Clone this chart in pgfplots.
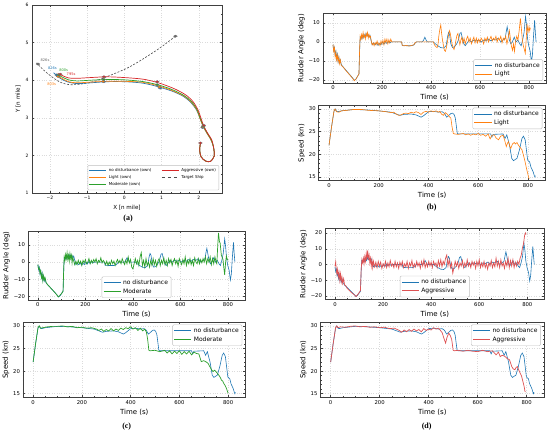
\documentclass[border=0pt]{standalone}
\usepackage{fontspec}
\setmainfont{DejaVu Sans}
\newfontfamily\capfont{Liberation Serif}
\usepackage{pgfplots}
\usepackage{pgfplotstable}
\pgfplotsset{compat=1.18}
\definecolor{tblue}{HTML}{1F77B4}
\definecolor{torange}{HTML}{FF7F0E}
\definecolor{tgreen}{HTML}{2CA02C}
\definecolor{tred}{HTML}{D62728}
\definecolor{tredl}{HTML}{DE5253}

\pgfplotstableread{
t v
0 -1.5
3 -4.5
6 -3
9 -7
12 -5
15 -9
18 -6.5
21 -10.5
24 -8
27 -11
30 -9.5
34 -12
40 -13
50 -14.5
60 -16
70 -17.5
80 -19
87 -20.3
94 -19.6
100 -18.2
106 -17
109 -4
111 2.5
115 1.5
119 3.5
123 2
127 4
131 2.5
135 4.5
139 3
143 4
147 2.5
151 3.5
156 0.5
160 -1.5
166 -0.5
172 -1.5
178 -0.5
184 -1.8
190 -0.8
196 -1.5
202 0
208 -1.2
214 0.3
220 -0.8
226 0.2
232 -0.5
238 0
280 0
283 -1.9
300 -2
320 -2
330 -1.6
336 -0.5
340 0
365 0
370 1
375 2.5
380 1
385 0
410 0
418 -1
428 -2
440 -3
452 -3.2
462 -2
468 3
472 5
476 4
481 -1
488 -3
496 -2.5
505 -1
512 1
518 4.5
523 5
528 2
534 -1
540 -2
548 -0.5
556 1
565 0
575 1
585 0.5
595 1
605 0
615 1
625 0.5
635 1.5
645 0.5
655 1.5
665 1
675 2
685 0
695 1
703 2
708 6
711 8
715 5
720 1
726 -1
732 0
740 2.5
747 0
755 1
762 -1
768 -2
774 1
780 5
786 13.5
790 9
794 2
799 -2
805 -5
810 -10.5
814 -7
818 2
823 11.5
826 5
829 0
}\ndrud

\pgfplotstableread{
t v
0 -1.5
3 -5
6 -3
9 -8
12 -5.5
15 -9.5
18 -7
21 -10.5
24 -8
27 -11.5
30 -9.5
34 -12.5
40 -13
50 -14.7
60 -16.2
70 -17.7
80 -19.2
87 -20.5
94 -19.6
100 -18.2
106 -17
109 -3
111 3
114 1.5
117 4
120 2
123 5
126 2.5
129 3.5
132 1.5
135 4.5
138 3
141 5
144 2
147 4
150 2.5
153 3
157 0
160 -1.5
164 -0.5
168 -2
172 -0.3
176 -1.5
180 0.5
184 -1.5
188 -0.5
192 -2
196 0.5
200 -1
204 0.8
208 -1.5
212 1.5
216 -0.5
220 1.5
224 -1
228 1.2
232 -0.5
236 1.5
240 0
280 0
283 -1.8
290 -2.1
300 -1.8
310 -2.2
320 -1.9
330 -1.5
336 -0.3
340 0
410 0
414 -1.5
420 -2.5
425 -3
429 -1
432 3
436 6.5
440 9
443 5
447 1
451 -2
455 -4.5
459 -5
463 -3
467 0
471 3
475 6
478 5
482 2
486 -1
490 -3
494 -4
498 -2
502 1
506 3.5
510 4.5
514 1
518 -1.5
522 1
526 2.5
530 -0.5
535 2
540 -1
545 1.5
550 3
555 0
560 2
565 -1
570 1
575 2.5
580 -0.5
585 2
590 -0.5
595 1.5
600 0
605 2
610 1
615 -1
620 2
625 0.5
630 2.5
635 0
640 1.5
645 3
650 0.5
655 2
660 1
665 3
670 0
675 2
680 1
685 3
690 -0.5
695 2
700 1
705 3
710 -1
715 2
720 6
724 2
728 -2
733 -4.5
737 -1
741 -5
745 0
750 3
755 1
760 6
765 12.5
769 7
773 1
777 -2
781 -4
785 -6
789 2
792 9.5
796 5
800 8
803 6
806 7.5
}\lightrud

\pgfplotstableread{
t v
0 -1.5
3 -4
6 -3.5
9 -6.5
12 -5
15 -9
18 -7
21 -11
24 -8
27 -10.5
30 -9
35 -12
40 -13
50 -14.5
60 -16
70 -17.5
80 -19.2
86 -20.3
92 -19.5
100 -18.3
106 -17
109 -3
111 3
114 1
117 4.5
120 2
123 5.5
126 1.5
129 4
132 0.5
135 5
138 2
141 4
144 -0.5
147 3
150 1
155 -1.5
160 0.5
165 -1.5
170 1
175 -1
180 0.5
185 -2
190 1
195 -0.5
200 1.5
205 -1
210 0
215 2
220 -1
225 1
230 -0.5
235 1.5
240 0
245 2
250 -1
255 1
260 0
265 2.5
270 -0.5
275 1
280 0
285 -1.5
290 0.5
295 -2
300 0
305 -1.5
310 1
315 -1
320 0.5
325 -2
330 0
335 1.5
340 -0.5
345 1
350 -1
355 2
360 0
365 -1.5
370 1
375 -1
380 3
385 -0.5
390 1.5
395 -3
400 -4
405 -1
410 2
415 -1
420 1
425 -2
430 3
435 5.5
440 -2
445 1
450 -3
455 2
460 -2
465 0
470 -3
475 1
480 -2
485 2
490 -1.5
495 1
500 -2.5
505 0.5
510 2
515 -2
520 1
525 -1
530 2.5
535 -1.5
540 1
545 -2
550 2
555 -0.5
560 1.5
565 -2
570 0.5
575 2
580 -1
585 1
590 -2.5
595 2
600 0
605 -1.5
610 1.5
615 -1
620 3
625 -2
630 1
635 -1
640 2
645 -1.5
650 1
655 -2
660 2.5
665 0
670 -1
675 2
680 -1
685 1.5
690 -0.5
695 2
700 0
705 3
710 -1
715 2
720 0
725 3
730 -1.5
735 2
740 -1
745 3
750 0
753 -1
757 10
760 17
764 12
767 11
772 4
779 1.5
783 -4
786 -7.5
790 0
793 3.5
796 2
800 1
}\modrud

\pgfplotstableread{
t v
0 -1
3 1.7
5 -3
8 -6
11 -3
14 -8
17 -5
20 -10
23 -6
26 -11
29 -8
32 -12
36 -9
40 -13
45 -13.5
50 -15
60 -16.5
70 -18
80 -19.2
88 -20.3
95 -19
100 -18
106 -16.5
109 -3
112 3
115 1
118 4
121 0.5
124 5
127 2
130 7
133 3
136 9
139 4
142 6
145 1
148 4
151 -1
154 3
157 -2
160 2
165 -1.5
170 1.5
175 -2
180 2
185 -1
190 1.5
195 -2.5
200 0.5
205 -1.5
210 2
215 -2
220 1
225 -1.5
230 2.5
235 -1
240 0.5
245 -2
250 2
255 -1.5
260 1
265 -2.5
270 1.5
275 -1
280 2
285 -2
290 0.5
295 -1.5
300 2
305 -2.5
310 1
315 -1
320 2.5
325 -2
330 0.5
335 -1.5
340 2
345 -1
350 1
355 -2.5
360 2
365 -1
370 3
375 -2
380 1
385 -1.5
390 2
395 -1
400 1.5
405 -2
410 2
415 -0.5
420 1
425 -2
430 2.5
435 -1
440 3
445 -1.5
450 2
455 0
460 4
465 6
470 -1
475 3
480 -2
485 1
490 -5.5
495 -2
500 2
505 -1
510 1.5
515 -2.5
520 1
525 -1
530 2.5
535 -2
540 1
545 -1.5
550 3
555 -1
560 1
565 -2
570 2
575 -0.5
580 1.5
585 -2.5
590 2
595 -1
600 3
605 -2
610 1
615 -1.5
620 2
625 -2
630 0.5
635 -3
640 1
645 -1
650 2.5
655 -2
660 1
665 -1.5
670 4
675 -1
680 2
685 -2
690 3
695 -1
700 1
705 -2.5
710 2
715 -1
720 4
725 -2
730 2.5
735 -1
740 3
745 -2
750 1.5
755 -1
760 2
765 0
770 4
775 6
779 10
784 13
789 18.6
793 20
795 19
}\aggrud

\pgfplotstableread{
t v
0 22
10 26
20 29.5
25 30
30 29.5
35 29.4
50 29.6
100 29.9
150 29.8
200 29.6
250 29.3
270 28.9
285 28.6
300 28.8
330 28.9
350 28.7
370 28.2
380 28.5
400 29.4
420 29.5
440 29.3
455 29.4
465 29.0
473 28.2
480 28.5
490 29.0
497 29.1
503 28.8
508 28.0
516 24.6
520 24.5
600 24.5
650 24.5
655 23.8
660 24.4
700 24.5
708 23.5
715 24.3
726 22.0
735 19.1
742 18.6
750 18.9
756 19.1
766 21.0
776 23.5
782 24.0
789 23.2
795 20.5
799 18.7
803 18.5
807 18.3
812 17.2
818 16.5
822 16.0
825 15.4
828 15.0
830 15.3
}\ndspd

\pgfplotstableread{
t v
0 22
10 26
20 29.6
24 30
30 29.4
40 29.3
50 29.6
70 29.7
100 29.9
130 29.9
160 29.7
200 29.6
230 29.4
250 29.2
260 29.3
270 28.9
280 28.6
290 28.7
300 29.0
310 29.1
320 29.0
330 29.3
340 29.1
350 29.4
360 29.2
370 28.8
380 29.3
390 29.5
400 29.3
410 29.6
420 29.4
430 29.6
440 29.3
446 29.5
452 28.9
460 28.6
468 29.2
475 28.9
482 28.4
490 28.0
495 26.0
500 24.6
505 24.5
520 24.4
540 24.6
550 24.3
560 24.5
570 24.2
580 24.5
590 24.3
600 24.6
610 24.2
620 24.4
630 24.0
640 24.5
648 23.4
655 24.2
665 24.3
672 23.6
682 23.2
690 24.0
700 24.2
707 23.0
713 21.7
718 22.5
722 22.8
727 21.8
731 21.3
738 22.3
745 22.6
750 22.3
756 22.6
762 22.0
766 21.7
772 21.3
776 21.0
782 19.8
788 18.5
793 17.2
798 16.0
803 14.9
805 14.6
}\lightspd

\pgfplotstableread{
t v
0 22
10 26
20 29.6
25 30
30 29.5
40 29.6
60 29.8
80 29.9
100 29.9
120 30.0
140 29.8
160 29.9
180 29.6
200 29.7
220 29.5
240 29.6
260 29.3
270 29.0
280 29.3
290 28.8
300 29.2
310 28.9
320 29.4
330 28.9
340 29.3
350 29.0
360 29.5
370 29.2
380 29.6
390 29.4
400 29.8
410 29.3
420 29.6
430 29.0
440 29.5
450 28.9
458 29.3
465 28.6
470 27.0
475 24.6
480 24.5
500 24.6
520 24.3
540 24.6
550 24.0
560 24.5
570 23.8
580 24.4
590 23.9
600 24.5
610 23.7
620 24.3
630 23.8
640 24.4
650 23.6
660 24.2
670 23.9
680 23.8
690 22.1
700 22.3
711 22.0
718 21.7
725 21.0
732 20.3
738 19.9
745 20.2
750 19.9
756 19.5
762 19.1
768 18.6
773 18.0
778 17.8
782 17.3
788 16.8
793 16.2
797 15.6
800 15.1
}\modspd

\pgfplotstableread{
t v
0 22
10 26
20 29.6
25 30
30 29.6
40 29.8
60 29.7
80 29.9
100 30.0
120 29.8
140 29.9
160 29.7
180 29.8
200 29.6
220 29.7
240 29.4
260 29.5
280 29.0
290 28.6
300 29.1
310 28.7
320 29.2
330 28.8
340 29.3
350 28.9
360 29.2
370 28.7
380 29.4
390 29.0
400 29.3
410 29.1
420 29.6
430 29.3
440 29.5
448 29.0
455 28.5
462 27.3
469 26.2
475 27.5
482 28.4
488 27.9
494 27.0
500 24.6
505 24.5
520 24.6
540 24.4
560 24.6
580 24.4
600 24.3
620 24.6
640 24.3
660 24.5
675 23.6
685 24.2
692 23.2
700 23.5
710 23.3
720 22.8
730 22.5
739 21.0
745 20.5
752 20.3
757 20.8
762 21.0
768 20.2
773 19.6
779 18.9
786 17.4
790 16.5
793 15.5
795 15.4
}\aggspd

\pgfplotsset{
  mybase/.style={
    scale only axis,
    axis line style={black!75, line width=0.5pt},
    tick style={black!75, line width=0.4pt},
    tick align=inside, tick pos=both,
    xticklabel pos=lower, yticklabel pos=left,
    major tick length=2.2pt, minor tick length=1.2pt,
    grid=major, major grid style={dotted, black!14, line width=0.4pt},
    /pgf/number format/assume math mode=true,
    scaled ticks=false,
    legend cell align=left,
  },
  tsax/.style={mybase, xmin=-41.5, xmax=871.5, xtick={0,200,400,600,800},
    minor x tick num=3, minor y tick num=4,
    tick label style={font=\fontsize{5.3}{6}\selectfont},
    label style={font=\fontsize{7}{8}\selectfont},
    xlabel={Time (s)},
    xlabel style={yshift=2.5pt}, ylabel style={yshift=-3pt},
    xticklabel style={yshift=0.5pt}, yticklabel style={xshift=0.5pt},
    legend style={font=\fontsize{6}{7}\selectfont, draw=black!25, rounded corners=1.2pt,
      fill=white, inner sep=1.2pt, row sep=-1.5pt},
    legend image post style={line width=1pt},
  },
  rudax/.style={tsax, ylabel={Rudder Angle (deg)}, ytick={-20,-10,0,10,20}, yticklabels={−20,−10,0,10,20}},
  spdax/.style={tsax, ylabel={Speed (kn)}, ymin=14.2, ymax=30.8, ytick={15,20,25,30}},
  ndst/.style={color=tblue, draw=tblue, line width=0.6pt},
  ltst/.style={color=torange, draw=torange, line width=0.6pt},
  mdst/.style={color=tgreen, draw=tgreen, line width=0.7pt},
  agst/.style={color=tredl, draw=tredl, line width=0.7pt},
  shipm/.style={only marks, mark=*, mark size=1.2pt, mark options={draw=black!55, fill=#1, line width=0.3pt, xscale=1.6}, forget plot},
}

\begin{document}
\begin{tikzpicture}
\useasboundingbox (0,0) rectangle (550pt,-435pt);

% ---------------- (a) trajectories ----------------
\begin{axis}[mybase, at={(32pt,-193pt)}, anchor=south west, width=190pt, height=188pt,
  xmin=-2.48, xmax=2.62, ymin=1, ymax=6,
  xtick={-2,-1,0,1,2}, xticklabels={−2,−1,0,1,2}, ytick={1,2,3,4,5,6},
  minor x tick num=3, minor y tick num=3,
  tick label style={font=\fontsize{4.5}{5}\selectfont},
  label style={font=\fontsize{5.6}{6.5}\selectfont},
  xlabel={X [n mile]}, ylabel={Y [n mile]},
  xlabel style={yshift=2pt}, ylabel style={yshift=-2pt},
  legend columns=2,
  legend style={at={(0.985,0.015)}, anchor=south east, font=\fontsize{4}{4.5}\selectfont,
    draw=black!25, rounded corners=1pt, fill=white,
    inner sep=1pt, row sep=-1.5pt, /tikz/every even column/.append style={column sep=8pt}},
]
\addlegendimage{draw=tblue, line width=0.9pt}\addlegendentry{no disturbance (own)}
\addlegendimage{draw=tred, line width=0.9pt}\addlegendentry{Aggressive (own)}
\addlegendimage{draw=torange, line width=0.9pt}\addlegendentry{Light (own)}
\addlegendimage{draw=black!70, dashed, line width=0.9pt}\addlegendentry{Target Ship}
\addlegendimage{draw=tgreen, line width=0.9pt}\addlegendentry{Moderate (own)}

\addplot[draw=black!70, line width=0.6pt, dash pattern=on 2pt off 1.5pt, smooth, forget plot] coordinates {
(1.37,5.17)(0.87,4.80)(0.15,4.36)(-0.43,4.11)(-0.80,3.97)(-1.15,3.90)(-1.46,3.88)(-1.73,3.95)(-2.0,4.13)(-2.2,4.30)(-2.36,4.46)};
\addplot[draw=tblue, line width=0.7pt, smooth, forget plot] coordinates {
(2.04,2.31)(2.02,2.14)(2.06,1.96)(2.18,1.85)(2.31,1.84)(2.41,1.98)(2.40,2.18)(2.33,2.40)(2.21,2.60)(2.11,2.78)(2.03,2.98)(1.94,3.20)(1.79,3.40)(1.60,3.56)(1.33,3.69)(1.06,3.78)(0.74,3.87)(0.43,3.93)(0,3.96)(-0.47,3.96)(-0.91,3.93)(-1.27,3.91)(-1.54,3.96)(-1.72,4.05)(-1.90,4.20)};
\addplot[draw=torange, line width=0.7pt, smooth, forget plot] coordinates {
(2.04,2.31)(2.02,2.14)(2.06,1.96)(2.18,1.85)(2.31,1.84)(2.41,1.98)(2.40,2.18)(2.33,2.40)(2.21,2.60)(2.11,2.78)(2.03,2.98)(1.95,3.20)(1.80,3.41)(1.61,3.57)(1.34,3.70)(1.07,3.80)(0.75,3.89)(0.44,3.95)(0,3.97)(-0.47,3.97)(-0.91,3.95)(-1.27,3.93)(-1.50,3.96)(-1.68,4.05)(-1.83,4.13)};
\addplot[draw=tgreen, line width=0.7pt, smooth, forget plot] coordinates {
(2.04,2.31)(2.02,2.14)(2.06,1.96)(2.18,1.85)(2.31,1.84)(2.41,1.98)(2.40,2.18)(2.34,2.40)(2.22,2.60)(2.12,2.78)(2.04,2.98)(1.96,3.20)(1.82,3.41)(1.62,3.58)(1.35,3.72)(1.09,3.82)(0.77,3.91)(0.45,3.97)(0,4.01)(-0.47,4.02)(-0.91,4.00)(-1.27,3.98)(-1.50,4.01)(-1.68,4.09)(-1.81,4.16)};
\addplot[draw=tred, line width=0.7pt, smooth, forget plot] coordinates {
(2.04,2.31)(2.02,2.14)(2.06,1.96)(2.18,1.85)(2.31,1.84)(2.41,1.98)(2.40,2.18)(2.35,2.40)(2.23,2.60)(2.13,2.78)(2.06,2.98)(1.98,3.20)(1.85,3.42)(1.66,3.60)(1.39,3.75)(1.12,3.86)(0.81,3.96)(0.48,4.03)(0,4.07)(-0.47,4.09)(-0.91,4.07)(-1.27,4.05)(-1.50,4.06)(-1.68,4.13)(-1.79,4.18)};
% ship markers
\addplot[shipm=tblue] coordinates {(-1.82,4.14)(-0.55,3.96)(0.96,3.79)(2.10,2.74)};
\addplot[shipm=torange] coordinates {(-1.78,4.10)(-0.57,3.97)(0.94,3.82)(2.11,2.76)};
\addplot[shipm=tgreen] coordinates {(-1.76,4.14)(-0.55,4.02)(0.88,3.88)(2.12,2.78)};
\addplot[shipm=tred] coordinates {(-1.72,4.16)(-0.55,4.09)(0.88,3.96)(2.13,2.80)(2.04,2.33)};
\addplot[shipm=black!60] coordinates {(1.37,5.17)(-2.32,4.43)};
\node[font=\fontsize{3.6}{4}\selectfont, text=black!60] at (axis cs:-2.13,4.53) {826s};
\node[font=\fontsize{3.6}{4}\selectfont, text=tblue] at (axis cs:-1.93,4.33) {826s};
\node[font=\fontsize{3.6}{4}\selectfont, text=tgreen] at (axis cs:-1.63,4.27) {800s};
\node[font=\fontsize{3.6}{4}\selectfont, text=tred] at (axis cs:-1.43,4.17) {795s};
\node[font=\fontsize{3.6}{4}\selectfont, text=torange] at (axis cs:-1.95,3.89) {803s};
\end{axis}

% ---------------- (b) ----------------
\begin{axis}[rudax, at={(322.8pt,-83pt)}, anchor=south west, width=223.7pt, height=70pt,
  ymin=-21.7, ymax=15.3,
  legend style={at={(0.985,0.03)}, anchor=south east}]
\addplot[ndst] table[x=t, y=v] {\ndrud};
\addlegendentry{no disturbance}
\addplot[ltst] table[x=t, y=v] {\lightrud};
\addlegendentry{Light}
\end{axis}
\begin{axis}[spdax, at={(318.7pt,-180.6pt)}, anchor=south west, width=227pt, height=75.2pt,
  legend style={at={(0.985,0.97)}, anchor=north east}]
\addplot[ndst] table[x=t, y=v] {\ndspd};
\addlegendentry{no disturbance}
\addplot[ltst] table[x=t, y=v] {\lightspd};
\addlegendentry{Light}
\end{axis}

% ---------------- (c) ----------------
\begin{axis}[rudax, at={(28pt,-300pt)}, anchor=south west, width=217pt, height=69pt,
  ymin=-22.1, ymax=18.1,
  legend style={at={(0.5,0.03)}, anchor=south}]
\addplot[ndst] table[x=t, y=v] {\ndrud};
\addlegendentry{no disturbance}
\addplot[mdst] table[x=t, y=v] {\modrud};
\addlegendentry{Moderate}
\end{axis}
\begin{axis}[spdax, at={(23pt,-397.3pt)}, anchor=south west, width=222.5pt, height=75pt,
  legend style={at={(0.985,0.97)}, anchor=north east}]
\addplot[ndst] table[x=t, y=v] {\ndspd};
\addlegendentry{no disturbance}
\addplot[mdst] table[x=t, y=v] {\modspd};
\addlegendentry{Moderate}
\end{axis}

% ---------------- (d) ----------------
\begin{axis}[rudax, at={(325pt,-299.3pt)}, anchor=south west, width=219.5pt, height=70.6pt,
  ymin=-22.1, ymax=22.7,
  legend style={at={(0.5,0.03)}, anchor=south}]
\addplot[ndst] table[x=t, y=v] {\ndrud};
\addlegendentry{no disturbance}
\addplot[agst] table[x=t, y=v] {\aggrud};
\addlegendentry{Aggressive}
\end{axis}
\begin{axis}[spdax, at={(320.5pt,-397.3pt)}, anchor=south west, width=223.7pt, height=75pt,
  legend style={at={(0.985,0.97)}, anchor=north east}]
\addplot[ndst] table[x=t, y=v] {\ndspd};
\addlegendentry{no disturbance}
\addplot[agst] table[x=t, y=v] {\aggspd};
\addlegendentry{Aggressive}
\end{axis}

% panel captions
\node[font=\capfont\fontsize{8}{9}\selectfont\bfseries] at (128pt,-219pt) {(a)};
\node[font=\capfont\fontsize{8}{9}\selectfont\bfseries] at (431.7pt,-207.3pt) {(b)};
\node[font=\capfont\fontsize{8}{9}\selectfont\bfseries] at (126.7pt,-426.7pt) {(c)};
\node[font=\capfont\fontsize{8}{9}\selectfont\bfseries] at (426.7pt,-426.7pt) {(d)};
\end{tikzpicture}
\end{document}
